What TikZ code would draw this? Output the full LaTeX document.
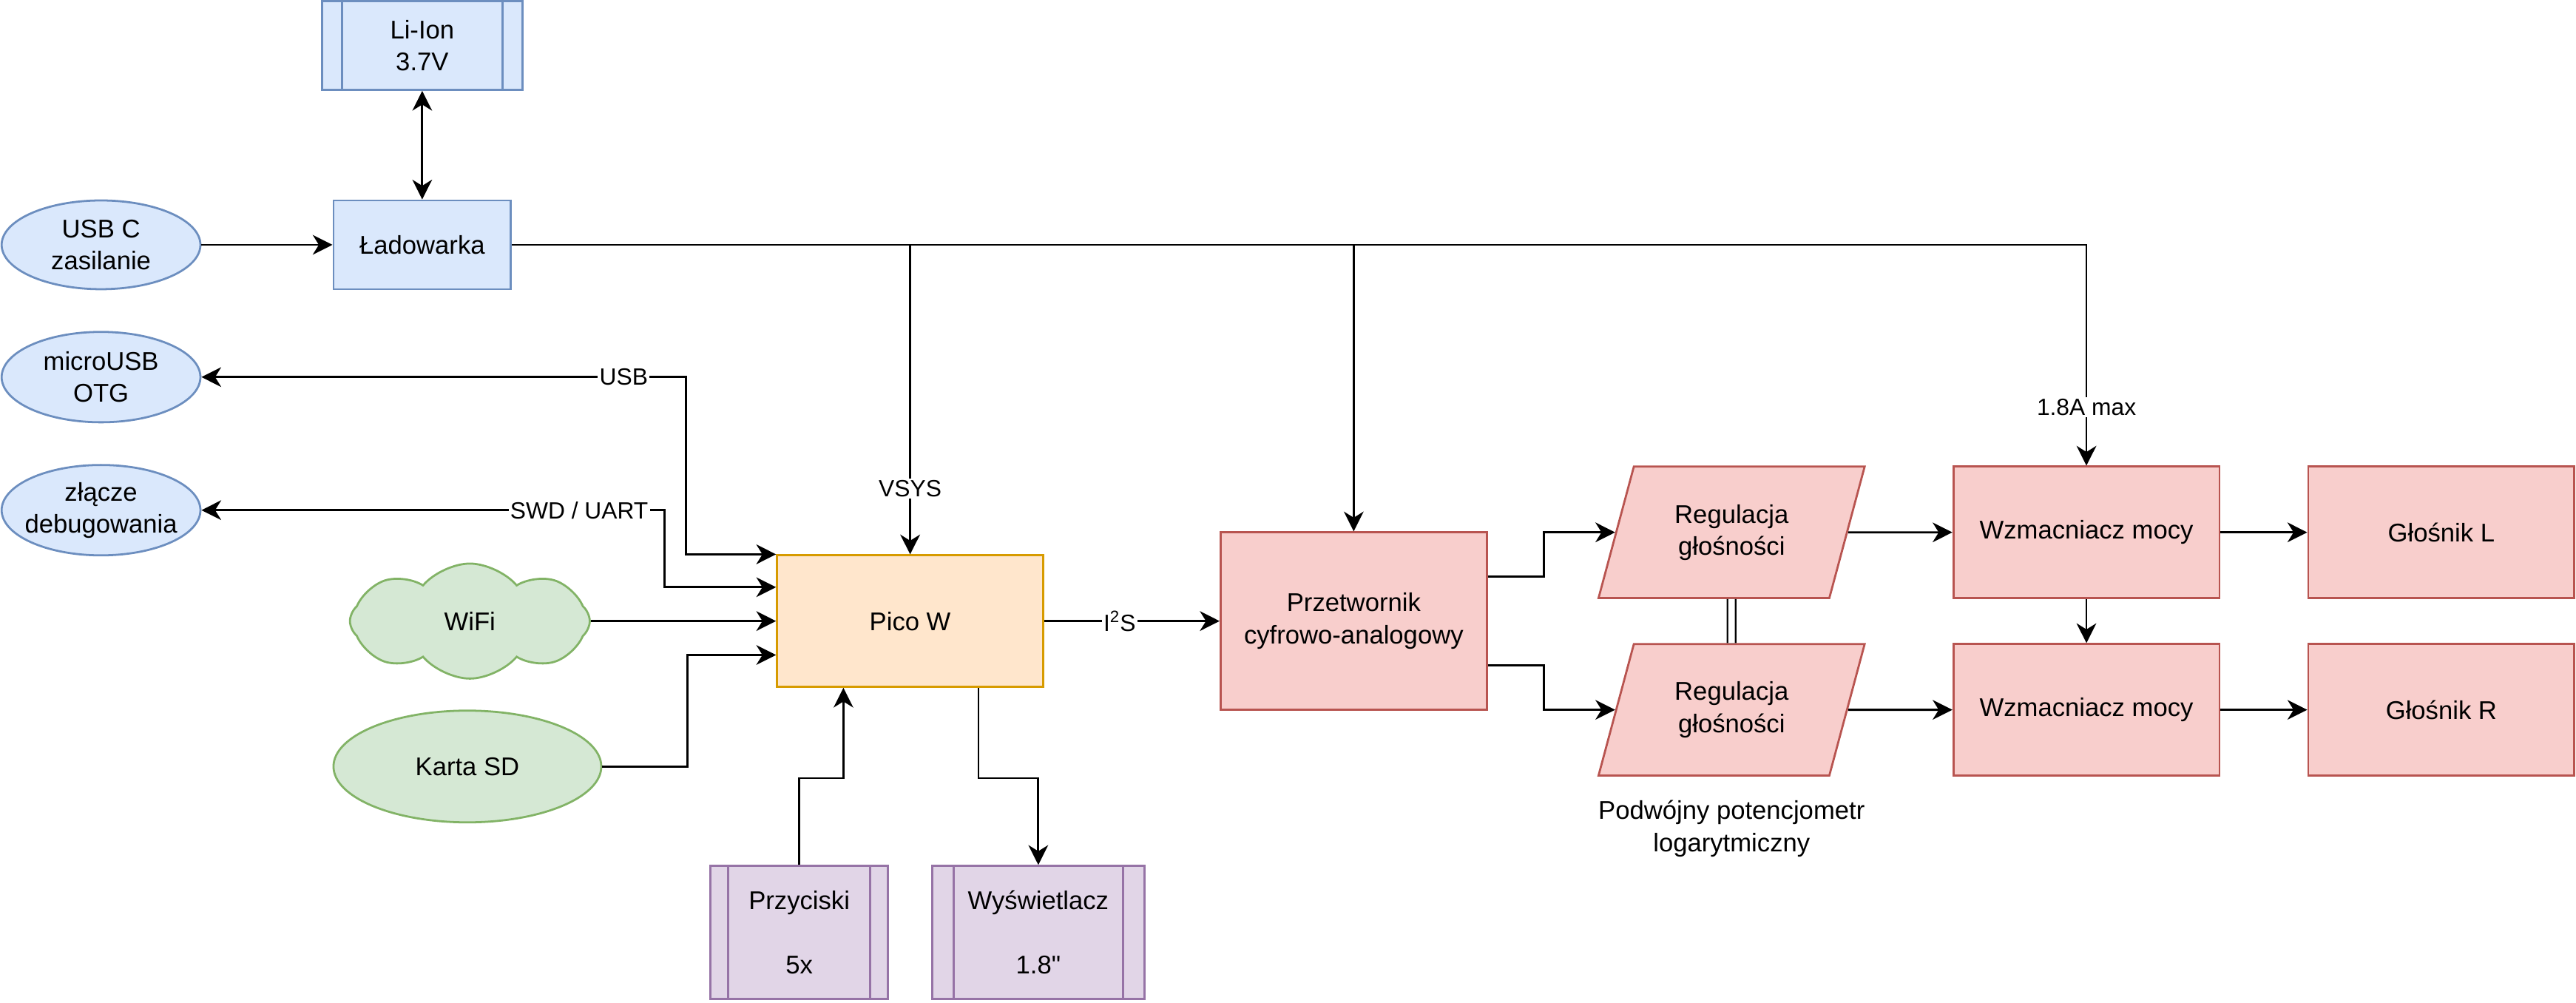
\documentclass[tikz,border=0pt]{standalone}
\usepackage{fontspec}
\setmainfont{Liberation Sans}
\usetikzlibrary{positioning,shapes.geometric,shapes.symbols,arrows.meta,calc}
\definecolor{blueline}{HTML}{6C8EBF}
\definecolor{bluefill}{HTML}{DAE8FC}
\definecolor{greenline}{HTML}{82B366}
\definecolor{greenfill}{HTML}{D5E8D4}
\definecolor{orangeline}{HTML}{D79B00}
\definecolor{orangefill}{HTML}{FFE6CC}
\definecolor{redline}{HTML}{B85450}
\definecolor{redfill}{HTML}{F8CECC}
\definecolor{purpleline}{HTML}{9673A6}
\definecolor{purplefill}{HTML}{E1D5E7}

\begin{document}
\begin{tikzpicture}[x=1pt, y=-1pt, line width=1.25pt,
  font=\fontsize{15.6}{19.5}\selectfont,
  arr/.style={-{Stealth[length=12pt,width=12pt,inset=3.7pt]}},
  arrboth/.style={{Stealth[length=12pt,width=12pt,inset=3.7pt]}-{Stealth[length=12pt,width=12pt,inset=3.7pt]}},
  lbl/.style={fill=white, inner sep=1pt, font=\fontsize{14.3}{17}\selectfont},
  boxnode/.style={rectangle, draw=#1line, fill=#1fill, align=center},
  ovalnode/.style={ellipse, draw=#1line, fill=#1fill, align=center, inner sep=-8pt},
  procnode/.style={rectangle, draw=#1line, fill=#1fill, align=center,
    path picture={\draw[#1line, line width=1.25pt]
      ($(path picture bounding box.south west)!0.1!(path picture bounding box.south east)$) --
      ($(path picture bounding box.north west)!0.1!(path picture bounding box.north east)$)
      ($(path picture bounding box.south west)!0.9!(path picture bounding box.south east)$) --
      ($(path picture bounding box.north west)!0.9!(path picture bounding box.north east)$);}},
  cloudnode/.style={cloud, cloud puffs=8, cloud puff arc=100, aspect=2.1, draw=greenline, fill=greenfill, inner sep=0pt},
  potnode/.style={trapezium, trapezium left angle=71.35, trapezium right angle=108.65, trapezium stretches=true, draw=redline, fill=redfill, align=center}]
\useasboundingbox (0,0) rectangle (1568,610.4);

\node (battery) [procnode=blue, minimum width=122pt, minimum height=54pt] at (257,27.7) {Li-Ion\\3.7V};
\node (charger) [boxnode=blue, minimum width=108pt, minimum height=54pt] at (257,149) {Ładowarka};
\node (usbc) [ovalnode=blue, minimum width=121pt, minimum height=54pt] at (61.5,149) {USB C\\zasilanie};
\node (otg) [ovalnode=blue, minimum width=121pt, minimum height=55pt] at (61.5,229.5) {microUSB\\OTG};
\node (debug) [ovalnode=blue, minimum width=121pt, minimum height=55pt] at (61.5,310.5) {złącze\\debugowania};
\node (wifi) [cloudnode, minimum width=146pt, minimum height=70pt] at (286,378) {WiFi};
\node (sd) [ovalnode=green, minimum width=163pt, minimum height=68pt] at (284.5,466.5) {Karta SD};
\node (pico) [boxnode=orange, minimum width=162pt, minimum height=80pt] at (554,378) {Pico W};
\node (buttons) [procnode=purple, minimum width=108pt, minimum height=81pt] at (486.5,567.5) {Przyciski\\[19.5pt]5x};
\node (display) [procnode=purple, minimum width=129pt, minimum height=81pt] at (632,567.5) {Wyświetlacz\\[19.5pt]1.8\textquotedbl};
\node (dac) [boxnode=red, minimum width=162pt, minimum height=108pt] at (824,378) {Przetwornik\\cyfrowo-analogowy};
\node (reg1) [potnode, minimum width=162pt, minimum height=80pt] at (1054,324) {Regulacja\\głośności};
\node (reg2) [potnode, minimum width=162pt, minimum height=80pt] at (1054,432) {Regulacja\\głośności};
\node (potnote) [below=14pt of reg2, align=center, inner sep=0pt] {Podwójny potencjometr\\logarytmiczny};
\node (ampL) [boxnode=red, minimum width=162pt, minimum height=80pt] at (1270,324) {Wzmacniacz mocy};
\node (ampR) [boxnode=red, minimum width=162pt, minimum height=80pt] at (1270,432) {Wzmacniacz mocy};
\node (spkL) [boxnode=red, minimum width=162pt, minimum height=80pt] at (1486,324) {Głośnik L};
\node (spkR) [boxnode=red, minimum width=162pt, minimum height=80pt] at (1486,432) {Głośnik R};

\draw[arrboth] (battery) -- (charger);
\draw[arr] (usbc) -- (charger);
\draw[arr] (charger.east) -| node[lbl, pos=0.894] {VSYS} (pico);
\draw[arr] (charger.east) -| (dac);
\draw[arr] (charger.east) -| node[lbl, pos=0.867] {1.8A max} (ampL);
\draw[arrboth] (otg) -| node[lbl, pos=0.436] {USB} ([xshift=-55pt]pico.north west) -- (pico.north west);
\draw[arrboth] (debug) -| node[lbl, pos=0.408] {SWD / UART} ([xshift=-68pt,yshift=-20pt]pico.north west) -- ([yshift=-20pt]pico.north west);
\draw[arr] (wifi) -- (pico);
\draw[arr] (sd) -| ([xshift=-54pt,yshift=20pt]pico.south west) -- ([yshift=20pt]pico.south west);
\draw[arr] (buttons.north) |- ([xshift=41pt,yshift=-55pt]pico.south west) -- ([xshift=41pt]pico.south west);
\draw[arr] ([xshift=-40pt]pico.south east) -- ++(0,-55pt) -| (display);
\draw[arr] (pico) -- node[lbl, pos=0.43] {I\textsuperscript{2}S} (dac);
\draw[arr] ([yshift=27pt]dac.east) -- ++(34pt,0) |- (reg1);
\draw[arr] ([yshift=-27pt]dac.east) -- ++(34pt,0) |- (reg2);
\draw[double, double distance=4pt, line width=1pt] (reg1) -- (reg2);
\draw[arr] (reg1) -- (ampL);
\draw[arr] (reg2) -- (ampR);
\draw[arr] (ampL) -- (ampR);
\draw[arr] (ampL) -- (spkL);
\draw[arr] (ampR) -- (spkR);

\end{tikzpicture}
\end{document}
